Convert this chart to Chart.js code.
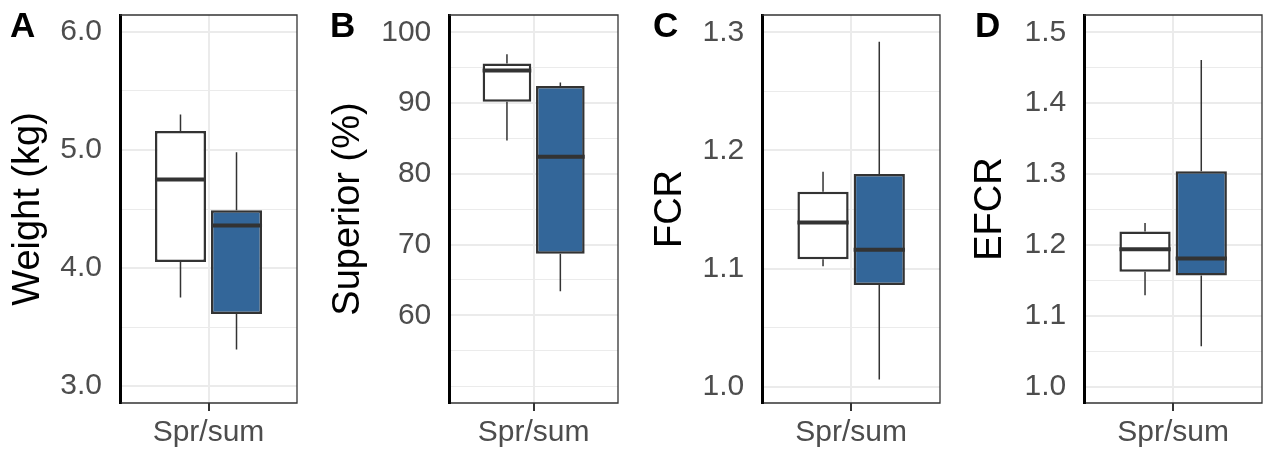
<!DOCTYPE html>
<html>
<head>
<meta charset="utf-8">
<script src="https://cdn.jsdelivr.net/npm/chart.js@4"></script>
<style>
  html, body { margin:0; padding:0; background:#fff; }
  #wrap { position:relative; width:1265px; height:452px; background:#fff; overflow:hidden; }
  canvas { position:absolute; top:0; }
  .lab { position:absolute; font-family:'Liberation Sans', Arial, sans-serif; font-weight:bold; font-size:35px; line-height:35px; color:#000; top:7px; }
</style>
</head>
<body>
<div id="wrap">
  <canvas id="cA" width="300" height="452" style="left:0px"></canvas>
  <canvas id="cB" width="300" height="452" style="left:320px"></canvas>
  <canvas id="cC" width="302" height="452" style="left:640px"></canvas>
  <canvas id="cD" width="305" height="452" style="left:960px"></canvas>
  <div class="lab" style="left:10px">A</div>
  <div class="lab" style="left:330px">B</div>
  <div class="lab" style="left:653px">C</div>
  <div class="lab" style="left:975px">D</div>
</div>
<script>
// ---- data (box stats: [min, q1, median, q3, max]) ----
const categories = ['Spr/sum'];

const weightWhite   = [3.75, 4.05, 4.75, 5.16, 5.30];
const weightBlue    = [3.31, 3.61, 4.36, 4.49, 4.98];
const superiorWhite = [84.7, 90.2, 94.6, 95.6, 96.9];
const superiorBlue  = [63.4, 68.7, 82.4, 92.4, 92.9];
const fcrWhite      = [1.102, 1.108, 1.139, 1.165, 1.182];
const fcrBlue       = [1.006, 1.086, 1.116, 1.180, 1.292];
const efcrWhite     = [1.129, 1.162, 1.194, 1.219, 1.231];
const efcrBlue      = [1.057, 1.157, 1.181, 1.304, 1.461];

const weightTicks   = [3.0, 4.0, 5.0, 6.0];
const weightMinor   = [3.5, 4.5, 5.5];
const superiorTicks = [60, 70, 80, 90, 100];
const superiorMinor = [50, 55, 65, 75, 85, 95];
const fcrTicks      = [1.0, 1.1, 1.2, 1.3];
const fcrMinor      = [1.05, 1.15, 1.25];
const efcrTicks     = [1.0, 1.1, 1.2, 1.3, 1.4, 1.5];
const efcrMinor     = [1.05, 1.15, 1.25, 1.35, 1.45];

const FONT = "'Liberation Sans', Arial, sans-serif";

const boxPlugin = {
  id: 'boxExtras',
  beforeDatasetsDraw(chart) {
    const y = chart.scales.y, ctx = chart.ctx;
    chart.data.datasets.forEach((ds, i) => {
      const el = chart.getDatasetMeta(i).data[0];
      const s = ds.stats;
      ctx.save();
      ctx.strokeStyle = '#333333';
      ctx.lineWidth = 1.5;
      ctx.beginPath();
      ctx.moveTo(el.x, y.getPixelForValue(s[4]));
      ctx.lineTo(el.x, y.getPixelForValue(s[3]));
      ctx.moveTo(el.x, y.getPixelForValue(s[1]));
      ctx.lineTo(el.x, y.getPixelForValue(s[0]));
      ctx.stroke();
      ctx.restore();
    });
  },
  afterDatasetsDraw(chart) {
    const y = chart.scales.y, ctx = chart.ctx;
    chart.data.datasets.forEach((ds, i) => {
      const el = chart.getDatasetMeta(i).data[0];
      const s = ds.stats;
      const py = y.getPixelForValue(s[2]);
      ctx.save();
      ctx.strokeStyle = '#333333';
      ctx.lineWidth = 4;
      ctx.beginPath();
      ctx.moveTo(el.x - el.width / 2, py);
      ctx.lineTo(el.x + el.width / 2, py);
      ctx.stroke();
      ctx.restore();
    });
  },
  afterDraw(chart) {
    const a = chart.chartArea, ctx = chart.ctx;
    ctx.save();
    ctx.strokeStyle = '#333333';
    ctx.lineWidth = 1.3;
    ctx.beginPath();
    ctx.moveTo(a.left, a.top);
    ctx.lineTo(a.right, a.top);
    ctx.lineTo(a.right, a.bottom);
    ctx.lineTo(a.left + 1.5, a.bottom);
    ctx.stroke();
    ctx.restore();
  }
};

function makePanel(id, title, white, blue, major, minor, yMin, yMax, yWidth, padRight, titlePad, decimals) {
  const all = [...minor, ...major].sort((a, b) => a - b);
  new Chart(document.getElementById(id), {
    type: 'bar',
    data: {
      labels: categories,
      datasets: [
        { stats: white, data: [[white[1], white[3]]], backgroundColor: '#ffffff', borderColor: '#333333', borderWidth: 2.5, borderSkipped: false },
        { stats: blue,  data: [[blue[1], blue[3]]],   backgroundColor: '#336699', borderColor: '#333333', borderWidth: 2.5, borderSkipped: false }
      ]
    },
    options: {
      responsive: false,
      animation: false,
      devicePixelRatio: 1,
      layout: { padding: { top: 15, right: padRight, left: 0, bottom: 0 } },
      datasets: { bar: { categoryPercentage: 0.633, barPercentage: 0.911 } },
      plugins: { legend: { display: false }, tooltip: { enabled: false } },
      scales: {
        x: {
          offset: true,
          afterFit: s => { s.height = 49; s.paddingLeft = 0; s.paddingRight = 0; },
          grid: { offset: false, color: '#ebebeb', lineWidth: 2, drawTicks: true, tickLength: 8, tickColor: '#333333', tickWidth: 2 },
          border: { display: false },
          ticks: { color: '#4d4d4d', font: { family: FONT, size: 30 }, padding: 4, maxRotation: 0 }
        },
        y: {
          min: yMin, max: yMax,
          afterFit: s => { s.width = yWidth; s.paddingTop = 0; s.paddingBottom = 0; },
          afterBuildTicks: s => { s.ticks = all.map(v => ({ value: v })); },
          grid: {
            color: '#ebebeb',
            lineWidth: c => (c.tick && major.includes(c.tick.value)) ? 2 : 1,
            drawTicks: false
          },
          border: { display: true, color: '#000000', width: 3 },
          ticks: {
            autoSkip: false,
            color: '#4d4d4d',
            font: { family: FONT, size: 30 },
            padding: 18,
            callback: v => major.includes(v) ? v.toFixed(decimals) : ''
          },
          title: { display: true, text: title, color: '#000000', font: { family: FONT, size: 38 }, padding: { top: titlePad, bottom: 0 } }
        }
      }
    },
    plugins: [boxPlugin]
  });
}

makePanel('cA', 'Weight (kg)',  weightWhite,   weightBlue,   weightTicks,   weightMinor,   2.856, 6.144, 120,   3, 6, 1);
makePanel('cB', 'Superior (%)', superiorWhite, superiorBlue, superiorTicks, superiorMinor, 47.6, 102.45, 129.3, 2, 6, 0);
makePanel('cC', 'FCR',          fcrWhite,      fcrBlue,      fcrTicks,      fcrMinor,      0.9862, 1.3147, 122.3, 2, 8, 1);
makePanel('cD', 'EFCR',         efcrWhite,     efcrBlue,     efcrTicks,     efcrMinor,     0.977, 1.5244, 124.3, 3, 8, 1);
</script>
</body>
</html>
